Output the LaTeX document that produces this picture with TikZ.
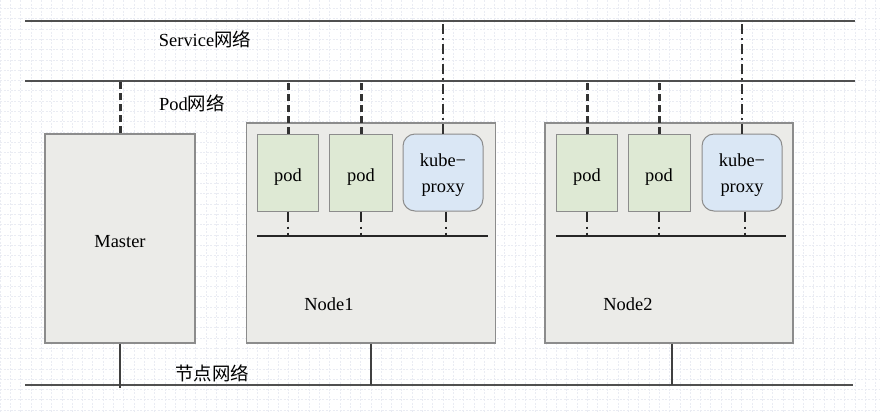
\documentclass[tikz,border=0pt]{standalone}
\usepackage{fontspec}
\setmainfont{Liberation Serif}
\newfontfamily\cjk{Noto Sans CJK SC}
\usetikzlibrary{calc}
\definecolor{gridc}{HTML}{EAECF3}
\definecolor{boxfill}{HTML}{EBEBE8}
\definecolor{boxdraw}{HTML}{8C8C8C}
\definecolor{podfill}{HTML}{DEE9D4}
\definecolor{kubefill}{HTML}{DAE7F5}
\definecolor{linec}{HTML}{505050}
\tikzset{
  hostbox/.style={draw=boxdraw, fill=boxfill, line width=1.2bp, minimum width=#1, inner sep=0pt},
  podbox/.style={draw=boxdraw, fill=podfill, line width=1bp, minimum width=#1, minimum height=77bp, inner sep=0pt},
  kubebox/.style={draw=boxdraw, fill=kubefill, line width=1bp, rounded corners=12bp, minimum width=80bp, minimum height=77bp, inner sep=0pt},
  netline/.style={draw=linec, line width=1.3bp},
  poddash/.style={draw=black!80, line width=3bp, dash pattern=on 7bp off 4bp},
  svcdash/.style={draw=black!80, line width=1.8bp, dash pattern=on 10bp off 4bp on 2bp off 4bp},
  lowdash/.style={draw=black!85, line width=2.4bp, dash pattern=on 10bp off 5bp on 2bp off 4bp},
  lbl/.style={font=\fontsize{18.5}{21}\selectfont, inner sep=0pt},
}
\begin{document}
\begin{tikzpicture}[x=1bp, y=-1bp]
\useasboundingbox (0,0) rectangle (880,412);
\fill[white] (0,0) rectangle (880,412);
% background grid
\foreach \i in {0,...,85} {
  \draw[gridc, line width=0.6bp, dash pattern=on 2bp off 1.5bp] ({\i*10.3},0) -- ({\i*10.3},412);
}
\foreach \j in {0,...,40} {
  \draw[gridc, line width=0.6bp, dash pattern=on 2bp off 1.5bp] (0,{\j*10.3-2}) -- (880,{\j*10.3-2});
}
% network lines
\coordinate (sL) at (25,21);  \coordinate (sR) at (855,21);
\coordinate (pL) at (25,81);  \coordinate (pR) at (855,81);
\coordinate (bL) at (25,385); \coordinate (bR) at (853,385);
\draw[netline] (sL) -- (sR);
\draw[netline] (pL) -- (pR);
\draw[netline] (bL) -- (bR);
\node[lbl] (svc) at (205,39) {Service{\cjk 网络}};
\node[lbl] (podnet) at (192,103) {Pod{\cjk 网络}};
\node[lbl] (hostnet) at (212,373) {\cjk 节点网络};
% hosts
\node[hostbox=150bp, minimum height=209bp] (master) at (120,238.5) {};
\node[lbl] (masterlbl) at (120,242) {Master};
\node[hostbox=249bp, minimum height=220bp] (n1) at (371,233) {};
\node[hostbox=248bp, minimum height=220bp] (n2) at (669,233) {};
\node[lbl] (n1lbl) at (329,304) {Node1};
\node[lbl] (n2lbl) at (628,304) {Node2};
% pods node1
\node[podbox=61bp, label={[lbl, yshift=-5bp]center:pod}] (n1p1) at (288,172.5) {};
\node[podbox=63bp, label={[lbl, yshift=-5bp]center:pod}] (n1p2) at (361,172.5) {};
\node[kubebox, label={[lbl, align=center, yshift=-3bp]center:kube−\\[5bp]proxy}] (n1k) at (443,172.5) {};
% pods node2
\node[podbox=61bp, label={[lbl, yshift=-5bp]center:pod}] (n2p1) at (587,172.5) {};
\node[podbox=62bp, label={[lbl, yshift=-5bp]center:pod}] (n2p2) at (659,172.5) {};
\node[kubebox, label={[lbl, align=center, yshift=-3bp]center:kube−\\[5bp]proxy}] (n2k) at (742,172.5) {};
% internal buses
\coordinate (b1L) at (257,236); \coordinate (b1R) at (488,236);
\coordinate (b2L) at (556,236); \coordinate (b2R) at (786,236);
\draw[draw=black!85, line width=1.1bp] (b1L) -- (b1R);
\draw[draw=black!85, line width=1.1bp] (b2L) -- (b2R);
% pod network connections
\draw[poddash] (master.north) -- (master.north |- pL);
\foreach \p in {n1p1,n1p2,n2p1,n2p2} {
  \draw[poddash] (\p.north) -- (\p.north |- pL);
  \draw[lowdash] (\p.south) -- (\p.south |- b1L);
}
\foreach \k in {n1k,n2k} {
  \draw[svcdash] (\k.north) -- (\k.north |- sL);
  \coordinate (\k low) at ([xshift=3bp]\k.south);
  \draw[lowdash] (\k low) -- (\k low |- b1L);
}
% node network connections
\draw[draw=black!75, line width=1.1bp] (master.south) -- ([yshift=-3bp]master.south |- bL);
\draw[draw=black!75, line width=1.1bp] (n1.south) -- (n1.south |- bL);
\coordinate (n2low) at ([xshift=3bp]n2.south);
\draw[draw=black!75, line width=1.1bp] (n2low) -- (n2low |- bL);
\end{tikzpicture}
\end{document}
